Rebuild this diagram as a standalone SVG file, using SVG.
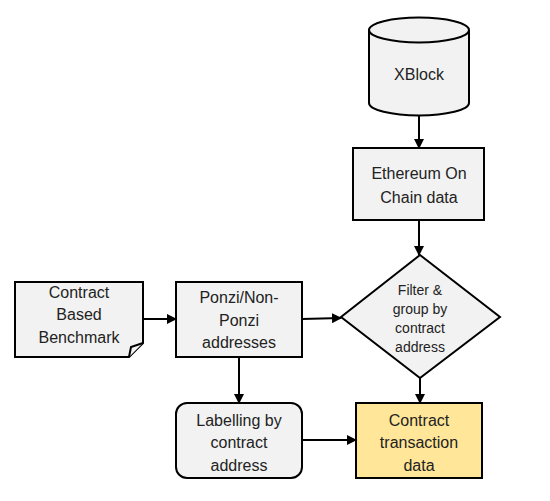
<svg xmlns="http://www.w3.org/2000/svg" width="550" height="501" viewBox="0 0 550 501">
<style>
.n{fill:#F2F2F2;stroke:#000;stroke-width:2}
.y{fill:#FFE699;stroke:#000;stroke-width:2}
.t{font-family:"Liberation Sans",Arial,sans-serif;font-size:16px;fill:#222;text-anchor:middle}
.s{font-family:"Liberation Sans",Arial,sans-serif;font-size:14px;fill:#222;text-anchor:middle}
.c{stroke:#000;stroke-width:2;fill:none;marker-end:url(#a)}
</style>
<defs>
<marker id="a" markerWidth="10" markerHeight="10" refX="9" refY="5" orient="auto" markerUnits="userSpaceOnUse">
<path d="M0,0 L10,5 L0,10 Z" fill="#000"/>
</marker>
</defs>
<rect width="550" height="501" fill="#fff"/>
<g id="connectors">
<line class="c" x1="419" y1="115" x2="419" y2="148"/>
<line class="c" x1="419" y1="220" x2="419" y2="255"/>
<line class="c" x1="143" y1="319" x2="176" y2="319"/>
<line class="c" x1="302" y1="319" x2="341" y2="318"/>
<line class="c" x1="420" y1="378" x2="420" y2="403"/>
<line class="c" x1="239" y1="357" x2="239" y2="403"/>
<line class="c" x1="302" y1="440" x2="356" y2="440"/>
</g>
<g id="xblock">
<path class="n" d="M369,30 L369,103 A50,12.5 0 0 0 469,103 L469,30 A50,12.5 0 0 0 369,30 Z"/>
<path class="n" d="M369,30 A50,12.5 0 0 0 469,30"/>
<text class="t" x="419" y="80">XBlock</text>
</g>
<g id="ethereum">
<rect class="n" x="353" y="148" width="131" height="72"/>
<text class="t" x="419" y="179">Ethereum On</text>
<text class="t" x="419" y="203">Chain data</text>
</g>
<g id="filter">
<path class="n" d="M420,255 L500,317 L420,378 L341,317 Z"/>
<text class="s" x="420" y="295">Filter &amp;</text>
<text class="s" x="420" y="314">group by</text>
<text class="s" x="420" y="333">contract</text>
<text class="s" x="420" y="352">address</text>
</g>
<g id="benchmark">
<path class="n" d="M15,282 L143,282 L143,343 L129,357 L15,357 Z"/>
<path class="n" d="M129,357 L131,347 L143,343" stroke-width="1.5"/>
<text class="t" x="79" y="298">Contract</text>
<text class="t" x="79" y="320">Based</text>
<text class="t" x="79" y="343">Benchmark</text>
</g>
<g id="ponzi">
<rect class="n" x="176" y="282" width="126" height="75"/>
<text class="t" x="239" y="303">Ponzi/Non-</text>
<text class="t" x="239" y="326">Ponzi</text>
<text class="t" x="239" y="348">addresses</text>
</g>
<g id="labelling">
<rect class="n" x="176" y="403" width="126" height="75" rx="11"/>
<text class="t" x="239" y="426">Labelling by</text>
<text class="t" x="239" y="448">contract</text>
<text class="t" x="239" y="471">address</text>
</g>
<g id="contract-tx">
<rect class="y" x="356" y="403" width="126" height="75"/>
<text class="t" x="419" y="426">Contract</text>
<text class="t" x="419" y="448">transaction</text>
<text class="t" x="419" y="471">data</text>
</g>
</svg>
